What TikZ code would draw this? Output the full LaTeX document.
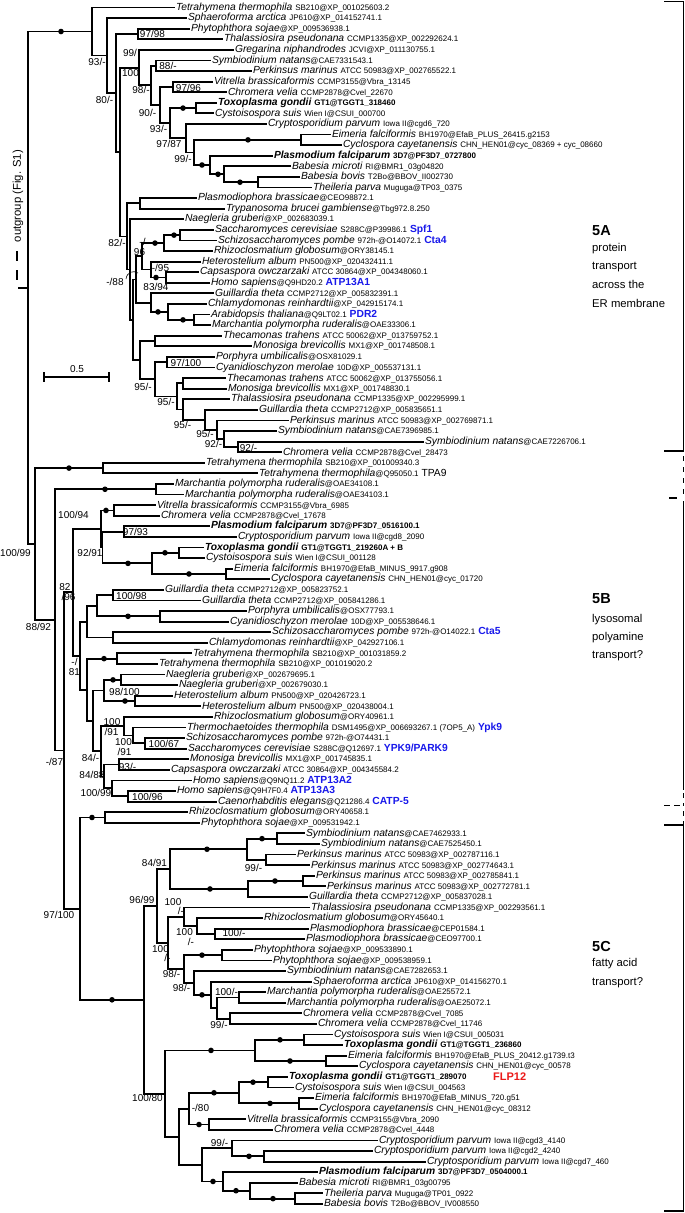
\documentclass[tikz,border=0pt]{standalone}
\usepackage{fontspec}
\setmainfont{Liberation Sans}
\usetikzlibrary{calc}
\definecolor{geneblue}{RGB}{25,25,235}
\definecolor{genered}{RGB}{235,25,25}
\newcommand\tSn[1]{{\itshape #1}}
\newcommand\tSnb[1]{{\bfseries\itshape #1}}
\newcommand\tAcc[1]{{\fontsize{8}{9}\selectfont #1}}
\newcommand\tAccb[1]{{\bfseries\fontsize{8}{9}\selectfont #1}}
\newcommand\tGn[1]{{\bfseries\color{geneblue}#1}}
\newcommand\tLeaf[4]{\node[leafn] (#1) at (#2,{7.5+10.588*(#3-1)}) {#4};}
\newcommand\tNode[4]{\path let \p1=(#3), \p2=(#4) in (#2pt,{0.5*\y1+0.5*\y2}) coordinate (#1);
  \draw[brl] (#1) |- (#3); \draw[brl] (#1) |- (#4);}
\newcommand\tDot[2]{\fill let \p1=(#2) in (#1pt,\y1) circle (2.8pt);}
\newcommand\tBs[4]{\node[bsl] (#1) at (#2,#3) {#4};}
\tikzset{
  leafn/.style={anchor=west, inner xsep=0.8pt, inner ysep=0.3pt, font=\fontsize{10.3}{11}\selectfont},
  brl/.style={line width=1.8pt},
  bsl/.style={inner sep=0pt, font=\fontsize{10}{11}\selectfont},
  cladel/.style={anchor=west, inner sep=0pt, font=\bfseries\fontsize{14.5}{16}\selectfont},
  claded/.style={anchor=west, inner sep=0pt, font=\fontsize{11.3}{13}\selectfont},
}
\begin{document}
\begin{tikzpicture}[x=1pt,y=-1pt]
\useasboundingbox (0,0) rectangle (685,1213);
\fill[white] (0,0) rectangle (685,1213);
% ---------------- leaves ----------------
\tLeaf{L1}{175}{1}{\tSn{Tetrahymena thermophila} \tAcc{SB210@XP\_001025603.2}}
\tLeaf{L2}{187}{2}{\tSn{Sphaeroforma arctica} \tAcc{JP610@XP\_014152741.1}}
\tLeaf{L3}{190}{3}{\tSn{Phytophthora sojae}\tAcc{@XP\_009536938.1}}
\tLeaf{L4}{223}{4}{\tSn{Thalassiosira pseudonana} \tAcc{CCMP1335@XP\_002292624.1}}
\tLeaf{L5}{234}{5}{\tSn{Gregarina niphandrodes} \tAcc{JCVI@XP\_011130755.1}}
\tLeaf{L6}{211}{6}{\tSn{Symbiodinium natans}\tAcc{@CAE7331543.1}}
\tLeaf{L7}{252}{7}{\tSn{Perkinsus marinus} \tAcc{ATCC 50983@XP\_002765522.1}}
\tLeaf{L8}{213}{8}{\tSn{Vitrella brassicaformis} \tAcc{CCMP3155@Vbra\_13145}}
\tLeaf{L9}{227}{9}{\tSn{Chromera velia} \tAcc{CCMP2878@Cvel\_22670}}
\tLeaf{L10}{217}{10}{\tSnb{Toxoplasma gondii} \tAccb{GT1@TGGT1\_318460}}
\tLeaf{L11}{214}{11}{\tSn{Cystoisospora suis} \tAcc{Wien I@CSUI\_000700}}
\tLeaf{L12}{267}{12}{\tSn{Cryptosporidium parvum} \tAcc{Iowa II@cgd6\_720}}
\tLeaf{L13}{331}{13}{\tSn{Eimeria falciformis} \tAcc{BH1970@EfaB\_PLUS\_26415.g2153}}
\tLeaf{L14}{342}{14}{\tSn{Cyclospora cayetanensis} \tAcc{CHN\_HEN01@cyc\_08369 + cyc\_08660}}
\tLeaf{L15}{273}{15}{\tSnb{Plasmodium falciparum} \tAccb{3D7@PF3D7\_0727800}}
\tLeaf{L16}{291}{16}{\tSn{Babesia microti} \tAcc{RI@BMR1\_03g04820}}
\tLeaf{L17}{300}{17}{\tSn{Babesia bovis} \tAcc{T2Bo@BBOV\_II002730}}
\tLeaf{L18}{312}{18}{\tSn{Theileria parva} \tAcc{Muguga@TP03\_0375}}
\tLeaf{L19}{197}{19}{\tSn{Plasmodiophora brassicae}\tAcc{@CEO98872.1}}
\tLeaf{L20}{225}{20}{\tSn{Trypanosoma brucei gambiense}\tAcc{@Tbg972.8.250}}
\tLeaf{L21}{184}{21}{\tSn{Naegleria gruberi}\tAcc{@XP\_002683039.1}}
\tLeaf{L22}{214}{22}{\tSn{Saccharomyces cerevisiae} \tAcc{S288C@P39986.1} \tGn{Spf1}}
\tLeaf{L23}{217}{23}{\tSn{Schizosaccharomyces pombe} \tAcc{972h-@O14072.1} \tGn{Cta4}}
\tLeaf{L24}{213}{24}{\tSn{Rhizoclosmatium globosum}\tAcc{@ORY38145.1}}
\tLeaf{L25}{201}{25}{\tSn{Heterostelium album} \tAcc{PN500@XP\_020432411.1}}
\tLeaf{L26}{199}{26}{\tSn{Capsaspora owczarzaki} \tAcc{ATCC 30864@XP\_004348060.1}}
\tLeaf{L27}{210}{27}{\tSn{Homo sapiens}\tAcc{@Q9HD20.2} \tGn{ATP13A1}}
\tLeaf{L28}{214}{28}{\tSn{Guillardia theta} \tAcc{CCMP2712@XP\_005832391.1}}
\tLeaf{L29}{207}{29}{\tSn{Chlamydomonas reinhardtii}\tAcc{@XP\_042915174.1}}
\tLeaf{L30}{210}{30}{\tSn{Arabidopsis thaliana}\tAcc{@Q9LT02.1} \tGn{PDR2}}
\tLeaf{L31}{211}{31}{\tSn{Marchantia polymorpha ruderalis}\tAcc{@OAE33306.1}}
\tLeaf{L32}{222}{32}{\tSn{Thecamonas trahens} \tAcc{ATCC 50062@XP\_013759752.1}}
\tLeaf{L33}{252}{33}{\tSn{Monosiga brevicollis} \tAcc{MX1@XP\_001748508.1}}
\tLeaf{L34}{215}{34}{\tSn{Porphyra umbilicalis}\tAcc{@OSX81029.1}}
\tLeaf{L35}{215}{35}{\tSn{Cyanidioschyzon merolae} \tAcc{10D@XP\_005537131.1}}
\tLeaf{L36}{226}{36}{\tSn{Thecamonas trahens} \tAcc{ATCC 50062@XP\_013755056.1}}
\tLeaf{L37}{227}{37}{\tSn{Monosiga brevicollis} \tAcc{MX1@XP\_001748830.1}}
\tLeaf{L38}{230}{38}{\tSn{Thalassiosira pseudonana} \tAcc{CCMP1335@XP\_002295999.1}}
\tLeaf{L39}{258}{39}{\tSn{Guillardia theta} \tAcc{CCMP2712@XP\_005835651.1}}
\tLeaf{L40}{289}{40}{\tSn{Perkinsus marinus} \tAcc{ATCC 50983@XP\_002769871.1}}
\tLeaf{L41}{277}{41}{\tSn{Symbiodinium natans}\tAcc{@CAE7396985.1}}
\tLeaf{L42}{424}{42}{\tSn{Symbiodinium natans}\tAcc{@CAE7226706.1}}
\tLeaf{L43}{282}{43}{\tSn{Chromera velia} \tAcc{CCMP2878@Cvel\_28473}}
\tLeaf{L44}{205}{44}{\tSn{Tetrahymena thermophila} \tAcc{SB210@XP\_001009340.3}}
\tLeaf{L45}{258}{45}{\tSn{Tetrahymena thermophila}\tAcc{@Q95050.1} TPA9}
\tLeaf{L46}{174}{46}{\tSn{Marchantia polymorpha ruderalis}\tAcc{@OAE34108.1}}
\tLeaf{L47}{184}{47}{\tSn{Marchantia polymorpha ruderalis}\tAcc{@OAE34103.1}}
\tLeaf{L48}{156}{48}{\tSn{Vitrella brassicaformis} \tAcc{CCMP3155@Vbra\_6985}}
\tLeaf{L49}{160}{49}{\tSn{Chromera velia} \tAcc{CCMP2878@Cvel\_17678}}
\tLeaf{L50}{210}{50}{\tSnb{Plasmodium falciparum} \tAccb{3D7@PF3D7\_0516100.1}}
\tLeaf{L51}{237}{51}{\tSn{Cryptosporidium parvum} \tAcc{Iowa II@cgd8\_2090}}
\tLeaf{L52}{204}{52}{\tSnb{Toxoplasma gondii} \tAccb{GT1@TGGT1\_219260A + B}}
\tLeaf{L53}{205}{53}{\tSn{Cystoisospora suis} \tAcc{Wien I@CSUI\_001128}}
\tLeaf{L54}{233}{54}{\tSn{Eimeria falciformis} \tAcc{BH1970@EfaB\_MINUS\_9917.g908}}
\tLeaf{L55}{270}{55}{\tSn{Cyclospora cayetanensis} \tAcc{CHN\_HEN01@cyc\_01720}}
\tLeaf{L56}{164}{56}{\tSn{Guillardia theta} \tAcc{CCMP2712@XP\_005823752.1}}
\tLeaf{L57}{201}{57}{\tSn{Guillardia theta} \tAcc{CCMP2712@XP\_005841286.1}}
\tLeaf{L58}{247}{58}{\tSn{Porphyra umbilicalis}\tAcc{@OSX77793.1}}
\tLeaf{L59}{229}{59}{\tSn{Cyanidioschyzon merolae} \tAcc{10D@XP\_005538646.1}}
\tLeaf{L60}{271}{60}{\tSn{Schizosaccharomyces pombe} \tAcc{972h-@O14022.1} \tGn{Cta5}}
\tLeaf{L61}{208}{61}{\tSn{Chlamydomonas reinhardtii}\tAcc{@XP\_042927106.1}}
\tLeaf{L62}{192}{62}{\tSn{Tetrahymena thermophila} \tAcc{SB210@XP\_001031859.2}}
\tLeaf{L63}{158}{63}{\tSn{Tetrahymena thermophila} \tAcc{SB210@XP\_001019020.2}}
\tLeaf{L64}{165}{64}{\tSn{Naegleria gruberi}\tAcc{@XP\_002679695.1}}
\tLeaf{L65}{178}{65}{\tSn{Naegleria gruberi}\tAcc{@XP\_002679030.1}}
\tLeaf{L66}{173}{66}{\tSn{Heterostelium album} \tAcc{PN500@XP\_020426723.1}}
\tLeaf{L67}{201}{67}{\tSn{Heterostelium album} \tAcc{PN500@XP\_020438004.1}}
\tLeaf{L68}{213}{68}{\tSn{Rhizoclosmatium globosum}\tAcc{@ORY40961.1}}
\tLeaf{L69}{186}{69}{\tSn{Thermochaetoides thermophila} \tAcc{DSM1495@XP\_006693267.1 (7OP5\_A)} \tGn{Ypk9}}
\tLeaf{L70}{185}{70}{\tSn{Schizosaccharomyces pombe} \tAcc{972h-@O74431.1}}
\tLeaf{L71}{187}{71}{\tSn{Saccharomyces cerevisiae} \tAcc{S288C@Q12697.1} \tGn{YPK9/PARK9}}
\tLeaf{L72}{189}{72}{\tSn{Monosiga brevicollis} \tAcc{MX1@XP\_001745835.1}}
\tLeaf{L73}{170}{73}{\tSn{Capsaspora owczarzaki} \tAcc{ATCC 30864@XP\_004345584.2}}
\tLeaf{L74}{192}{74}{\tSn{Homo sapiens}\tAcc{@Q9NQ11.2} \tGn{ATP13A2}}
\tLeaf{L75}{176}{75}{\tSn{Homo sapiens}\tAcc{@Q9H7F0.4} \tGn{ATP13A3}}
\tLeaf{L76}{217}{76}{\tSn{Caenorhabditis elegans}\tAcc{@Q21286.4} \tGn{CATP-5}}
\tLeaf{L77}{188}{77}{\tSn{Rhizoclosmatium globosum}\tAcc{@ORY40658.1}}
\tLeaf{L78}{200}{78}{\tSn{Phytophthora sojae}\tAcc{@XP\_009531942.1}}
\tLeaf{L79}{305}{79}{\tSn{Symbiodinium natans}\tAcc{@CAE7462933.1}}
\tLeaf{L80}{320}{80}{\tSn{Symbiodinium natans}\tAcc{@CAE7525450.1}}
\tLeaf{L81}{296}{81}{\tSn{Perkinsus marinus} \tAcc{ATCC 50983@XP\_002787116.1}}
\tLeaf{L82}{310}{82}{\tSn{Perkinsus marinus} \tAcc{ATCC 50983@XP\_002774643.1}}
\tLeaf{L83}{315}{83}{\tSn{Perkinsus marinus} \tAcc{ATCC 50983@XP\_002785841.1}}
\tLeaf{L84}{326}{84}{\tSn{Perkinsus marinus} \tAcc{ATCC 50983@XP\_002772781.1}}
\tLeaf{L85}{308}{85}{\tSn{Guillardia theta} \tAcc{CCMP2712@XP\_005837028.1}}
\tLeaf{L86}{310}{86}{\tSn{Thalassiosira pseudonana} \tAcc{CCMP1335@XP\_002293561.1}}
\tLeaf{L87}{263}{87}{\tSn{Rhizoclosmatium globosum}\tAcc{@ORY45640.1}}
\tLeaf{L88}{309}{88}{\tSn{Plasmodiophora brassicae}\tAcc{@CEP01584.1}}
\tLeaf{L89}{305}{89}{\tSn{Plasmodiophora brassicae}\tAcc{@CEO97700.1}}
\tLeaf{L90}{253}{90}{\tSn{Phytophthora sojae}\tAcc{@XP\_009533890.1}}
\tLeaf{L91}{272}{91}{\tSn{Phytophthora sojae}\tAcc{@XP\_009538959.1}}
\tLeaf{L92}{286}{92}{\tSn{Symbiodinium natans}\tAcc{@CAE7282653.1}}
\tLeaf{L93}{312}{93}{\tSn{Sphaeroforma arctica} \tAcc{JP610@XP\_014156270.1}}
\tLeaf{L94}{266}{94}{\tSn{Marchantia polymorpha ruderalis}\tAcc{@OAE25572.1}}
\tLeaf{L95}{286}{95}{\tSn{Marchantia polymorpha ruderalis}\tAcc{@OAE25072.1}}
\tLeaf{L96}{302}{96}{\tSn{Chromera velia} \tAcc{CCMP2878@Cvel\_7085}}
\tLeaf{L97}{317}{97}{\tSn{Chromera velia} \tAcc{CCMP2878@Cvel\_11746}}
\tLeaf{L98}{333}{98}{\tSn{Cystoisospora suis} \tAcc{Wien I@CSUI\_005031}}
\tLeaf{L99}{343}{99}{\tSnb{Toxoplasma gondii} \tAccb{GT1@TGGT1\_236860}}
\tLeaf{L100}{347}{100}{\tSn{Eimeria falciformis} \tAcc{BH1970@EfaB\_PLUS\_20412.g1739.t3}}
\tLeaf{L101}{358}{101}{\tSn{Cyclospora cayetanensis} \tAcc{CHN\_HEN01@cyc\_00578}}
\tLeaf{L102}{288}{102}{\tSnb{Toxoplasma gondii} \tAccb{GT1@TGGT1\_289070}}
\tLeaf{L103}{294}{103}{\tSn{Cystoisospora suis} \tAcc{Wien I@CSUI\_004563}}
\tLeaf{L104}{314}{104}{\tSn{Eimeria falciformis} \tAcc{BH1970@EfaB\_MINUS\_720.g51}}
\tLeaf{L105}{318}{105}{\tSn{Cyclospora cayetanensis} \tAcc{CHN\_HEN01@cyc\_08312}}
\tLeaf{L106}{246}{106}{\tSn{Vitrella brassicaformis} \tAcc{CCMP3155@Vbra\_2090}}
\tLeaf{L107}{273}{107}{\tSn{Chromera velia} \tAcc{CCMP2878@Cvel\_4448}}
\tLeaf{L108}{378}{108}{\tSn{Cryptosporidium parvum} \tAcc{Iowa II@cgd3\_4140}}
\tLeaf{L109}{373}{109}{\tSn{Cryptosporidium parvum} \tAcc{Iowa II@cgd2\_4240}}
\tLeaf{L110}{426}{110}{\tSn{Cryptosporidium parvum} \tAcc{Iowa II@cgd7\_460}}
\tLeaf{L111}{318}{111}{\tSnb{Plasmodium falciparum} \tAccb{3D7@PF3D7\_0504000.1}}
\tLeaf{L112}{298}{112}{\tSn{Babesia microti} \tAcc{RI@BMR1\_03g00795}}
\tLeaf{L113}{323}{113}{\tSn{Theileria parva} \tAcc{Muguga@TP01\_0922}}
\tLeaf{L114}{323}{114}{\tSn{Babesia bovis} \tAcc{T2Bo@BBOV\_IV008550}}
\node[anchor=west, inner sep=0pt, font=\bfseries\fontsize{11}{12}\selectfont, text=genered] (flp) at (493,1076.9) {FLP12};
% ---------------- 5A ----------------
\tNode{n88}{156}{L6}{L7}
\tNode{pVC1}{173}{L8}{L9}
\tNode{pTC1}{196}{L10}{L11}
\tNode{pEC1}{301}{L13}{L14}
\tNode{pBT1}{258}{L17}{L18}
\tNode{nQ1}{224}{L16}{pBT1}
\tNode{nP1}{210}{L15}{nQ1}
\tNode{n99a}{194}{pEC1}{nP1}
\tNode{n9787}{186}{L12}{n99a}
\tNode{nJ}{170}{pTC1}{n9787}
\tNode{nH}{160}{pVC1}{nJ}
\tNode{nG}{151}{n88}{nH}
\tNode{nF}{139}{L5}{nG}
\tNode{pD}{138}{L3}{L4}
\tNode{pPT}{140}{L19}{L20}
\tNode{pSS1}{180}{L22}{L23}
\tNode{nR1}{164}{pSS1}{L24}
\tNode{pCH}{166}{L26}{L27}
\tNode{nS}{151}{L25}{pCH}
\tNode{n96}{142}{nR1}{nS}
\tNode{pAM}{194}{L30}{L31}
\tNode{nCA}{168}{L29}{pAM}
\tNode{nGC}{151}{L28}{nCA}
\tNode{nX1}{136}{n96}{nGC}
\tNode{pTM1}{155}{L32}{L33}
\tNode{pPC}{167}{L34}{L35}
\tNode{pTM2}{183}{L36}{L37}
\tNode{pSC}{238}{L42}{L43}
\tNode{nZ1}{224}{L41}{pSC}
\tNode{nZ2}{217}{L40}{nZ1}
\tNode{nZ3}{205}{L39}{nZ2}
\tNode{nZ4}{183}{L38}{nZ3}
\tNode{nZ6}{177}{pTM2}{nZ4}
\tNode{nZ5}{155}{pPC}{nZ6}
\tNode{nY}{140}{pTM1}{nZ5}
\tNode{nW2}{133}{nX1}{nY}
\tNode{nW}{130}{L21}{nW2}
\tNode{nE2}{127}{pPT}{nW}
\tNode{nE}{120}{nF}{nE2}
\tNode{nC}{116}{pD}{nE}
\tNode{nB}{107}{L2}{nC}
\tNode{nA}{92}{L1}{nB}
% ---------------- TPA9 and Marchantia ----------------
\tNode{pTP}{103}{L44}{L45}
\tNode{pMM}{156}{L46}{L47}
% ---------------- 5B ----------------
\tNode{pVC2}{114}{L48}{L49}
\tNode{pPCr}{124}{L50}{L51}
\tNode{pTC2}{179}{L52}{L53}
\tNode{pEC2}{226}{L54}{L55}
\tNode{nT2}{152}{pTC2}{pEC2}
\tNode{nN2}{102.5}{pPCr}{nT2}
\tNode{nN1}{101}{pVC2}{nN2}
\tNode{pGG}{113}{L56}{L57}
\tNode{pPC2}{160}{L58}{L59}
\tNode{nG1}{97}{pGG}{pPC2}
\tNode{pSC2}{113}{L60}{L61}
\tNode{nG2}{87}{nG1}{pSC2}
\tNode{pTT}{117}{L62}{L63}
\tNode{pNN}{121}{L64}{L65}
\tNode{pHH}{135}{L66}{L67}
\tNode{nNH}{104}{pNN}{pHH}
\tNode{pSS2}{145}{L70}{L71}
\tNode{nTc}{133}{L69}{pSS2}
\tNode{nRT}{124}{L68}{nTc}
\tNode{pMC}{119}{L72}{L73}
\tNode{pHC}{128}{L75}{L76}
\tNode{nHB}{112}{L74}{pHC}
\tNode{n8488}{104}{pMC}{nHB}
\tNode{n84}{101}{nRT}{n8488}
\tNode{nX}{93}{nNH}{n84}
\tNode{nG3}{87}{pTT}{nX}
\tNode{nG4}{80}{nG2}{nG3}
\tNode{n5B}{73}{nN1}{nG4}
% ---------------- 5C ----------------
\tNode{pRP}{105}{L77}{L78}
\tNode{pSy}{277}{L79}{L80}
\tNode{pPk1}{266}{L81}{L82}
\tNode{nT1}{247}{pSy}{pPk1}
\tNode{pPk2}{303}{L83}{L84}
\tNode{nT2c}{248}{pPk2}{L85}
\tNode{n8491}{170}{nT1}{nT2c}
\tNode{pPB}{215}{L88}{L89}
\tNode{nB1b}{197}{L87}{pPB}
\tNode{nB1}{184}{L86}{nB1b}
\tNode{pPS}{222}{L90}{L91}
\tNode{pMr}{239}{L94}{L95}
\tNode{pCv}{230}{L96}{L97}
\tNode{nGc}{217}{pMr}{pCv}
\tNode{nFc}{211}{L93}{nGc}
\tNode{nEc}{194}{L92}{nFc}
\tNode{nDc}{184}{pPS}{nEc}
\tNode{nBc}{168}{nB1}{nDc}
\tNode{n9699}{157}{n8491}{nBc}
\tNode{pCT1}{304}{L98}{L99}
\tNode{pEC3}{326}{L100}{L101}
\tNode{nH1}{255}{pCT1}{pEC3}
\tNode{pTC3}{268}{L102}{L103}
\tNode{pEC4}{299}{L104}{L105}
\tNode{nH2a1}{239}{pTC3}{pEC4}
\tNode{pVC3}{209}{L106}{L107}
\tNode{nH2a}{189}{nH2a1}{pVC3}
\tNode{pCr}{264}{L109}{L110}
\tNode{nCc}{232}{L108}{pCr}
\tNode{pBT2}{295}{L113}{L114}
\tNode{nQc}{250}{L112}{pBT2}
\tNode{nPc}{223}{L111}{nQc}
\tNode{nH2b}{202}{nCc}{nPc}
\tNode{nH2}{179}{nH2a}{nH2b}
\tNode{n10080}{165}{nH1}{nH2}
\tNode{n110}{144}{n9699}{n10080}
\tNode{n5C}{80}{pRP}{n110}
% ---------------- backbone ----------------
\tNode{n87}{64}{n5B}{n5C}
\tNode{n8892}{55}{pMM}{n87}
\tNode{n10099}{35}{pTP}{n8892}
\tNode{root}{28}{nA}{n10099}
% outgroup
\coordinate (og) at (17,246);
\draw[brl, dash pattern=on 10pt off 9pt] (root) -| (og);
\node[rotate=90, inner sep=0pt, font=\fontsize{11.3}{12}\selectfont] (ogt) at (18,196) {outgroup (Fig. S1)};
% ---------------- dots ----------------
\tDot{61}{nA}
\tDot{183}{pTC1}
\tDot{248}{pEC1}
\tDot{202}{nP1}
\tDot{218}{nQ1}
\tDot{240}{pBT1}
\tDot{174}{pSS1}
\tDot{155}{nR1}
\tDot{156}{pCH}
\tDot{158}{nCA}
\tDot{183}{pAM}
\tDot{69}{pTP}
\tDot{105}{pMM}
\tDot{106}{pVC2}
\tDot{128}{nT2}
\tDot{165}{pTC2}
\tDot{189}{pEC2}
\tDot{128}{pPC2}
\tDot{104}{pTT}
\tDot{113}{pNN}
\tDot{125}{pHH}
\tDot{92}{pRP}
\tDot{112}{n110}
\tDot{207}{nT1}
\tDot{262}{pSy}
\tDot{210}{nT2c}
\tDot{275}{pPk2}
\tDot{202}{pPS}
\tDot{202}{nFc}
\tDot{211}{nH1}
\tDot{280}{pCT1}
\tDot{290}{pEC3}
\tDot{214}{nH2a1}
\tDot{253}{pTC3}
\tDot{270}{pEC4}
\tDot{199}{pVC3}
\tDot{249}{pCr}
\tDot{213}{nPc}
\tDot{236}{nQc}
\tDot{273}{pBT2}
% ---------------- support labels ----------------
\tBs{b1}{97}{62}{93/-}
\tBs{b2}{104.5}{100}{80/-}
\tBs{b3}{152.5}{34}{97/98}
\tBs{b4}{130}{53}{99/}
\tBs{b5}{130.5}{73}{100}
\tBs{b6}{141}{90}{98/-}
\tBs{b7}{168}{66}{88/-}
\tBs{b8}{188.5}{88}{97/96}
\tBs{b9}{147.5}{113}{90/-}
\tBs{b10}{158.5}{129}{93/-}
\tBs{b11}{169}{144}{97/87}
\tBs{b12}{183}{159}{99/-}
\tBs{b13}{117}{243}{82/-}
\tBs{b14}{142.5}{242}{-/}
\tBs{b15}{139.5}{252}{96}
\tBs{b16}{160.5}{268}{-/95}
\tBs{b17}{115}{282}{-/88}
\tBs{b18}{156}{287}{83/94}
\tBs{b19}{186}{363}{97/100}
\tBs{b20}{143}{387}{95/-}
\tBs{b21}{166}{402}{95/-}
\tBs{b22}{182.5}{425}{95/-}
\tBs{b23}{205}{434}{95/-}
\tBs{b24}{213.5}{444}{92/-}
\tBs{b25}{248.5}{448}{92/-}
\draw[line width=0.6pt] (126,279) .. controls (127,272) and (133,270) .. (138,273);
\tBs{b26}{15.5}{553}{100/99}
\tBs{b27}{38.5}{627}{88/92}
\tBs{b28}{54.5}{762}{-/87}
\tBs{b29}{65}{587}{82}
\tBs{b30}{68.5}{597}{/96}
\tBs{b31}{73.5}{515}{100/94}
\tBs{b32}{90}{553}{92/91}
\tBs{b33}{135.5}{532}{97/93}
\tBs{b34}{131.5}{596}{100/98}
\tBs{b35}{74.5}{662}{-/}
\tBs{b36}{74.5}{672}{81}
\tBs{b37}{124.5}{692}{98/100}
\tBs{b38}{112}{722}{100}
\tBs{b39}{111.5}{732}{/91}
\tBs{b40}{123.5}{742}{100}
\tBs{b41}{124.5}{752}{/91}
\tBs{b42}{164}{744}{100/67}
\tBs{b43}{90.5}{758}{84/-}
\tBs{b44}{127.5}{767}{93/-}
\tBs{b45}{92}{775}{84/88}
\tBs{b46}{96}{793}{100/99}
\tBs{b47}{147.5}{797}{100/96}
\tBs{b48}{59}{915}{97/100}
\tBs{b49}{154.5}{863}{84/91}
\tBs{b50}{253.5}{868}{99/-}
\tBs{b51}{142}{900}{96/99}
\tBs{b52}{173}{902}{100}
\tBs{b53}{181}{911}{/-}
\tBs{b54}{184.5}{932}{100}
\tBs{b55}{191}{942}{/-}
\tBs{b56}{234}{933}{100/-}
\tBs{b57}{160.5}{949}{100}
\tBs{b58}{167.5}{958}{/-}
\tBs{b59}{171.5}{974}{98/-}
\tBs{b60}{181.5}{988}{98/-}
\tBs{b61}{226.5}{992}{100/-}
\tBs{b62}{219}{1025}{99/-}
\tBs{b63}{147.5}{1098}{100/80}
\tBs{b64}{200.5}{1108}{-/80}
\tBs{b65}{219.5}{1143}{99/-}
% ---------------- scale bar ----------------
\draw[line width=1.4pt] (44,377) -- (109,377);
\draw[line width=1.2pt] (44,372) -- (44,382);
\draw[line width=1.2pt] (109,372) -- (109,382);
\node[bsl] (sbl) at (77,369) {0.5};
% ---------------- clade brackets ----------------
\draw[brl] (664,1.5) -- (683.5,1.5) -- (683.5,451) -- (664,451);
\draw[brl, dash pattern=on 5pt off 6pt] (683.5,456) -- (683.5,494);
\draw[brl] (669,498) -- (677,498);
\draw[brl] (683.5,501) -- (683.5,790);
\draw[brl, dash pattern=on 5pt off 5pt] (683.5,793) -- (683.5,806);
\draw[brl, dash pattern=on 6pt off 4pt] (664,805.5) -- (683.5,805.5);
\draw[brl, dash pattern=on 5pt off 5pt] (683.5,811) -- (683.5,824);
\draw[brl] (664,825) -- (683.5,825) -- (683.5,1211) -- (664,1211);
\node[cladel] (c5A) at (592,231) {5A};
\node[claded] (d5A1) at (592,249) {protein};
\node[claded] (d5A2) at (592,267) {transport};
\node[claded] (d5A3) at (592,284) {across the};
\node[claded] (d5A4) at (592,303) {ER membrane};
\node[cladel] (c5B) at (592,599) {5B};
\node[claded] (d5B1) at (592,620) {lysosomal};
\node[claded] (d5B2) at (592,638) {polyamine};
\node[claded] (d5B3) at (592,656) {transport?};
\node[cladel] (c5C) at (592,946) {5C};
\node[claded] (d5C1) at (592,964) {fatty acid};
\node[claded] (d5C2) at (592,983) {transport?};
\end{tikzpicture}
\end{document}
